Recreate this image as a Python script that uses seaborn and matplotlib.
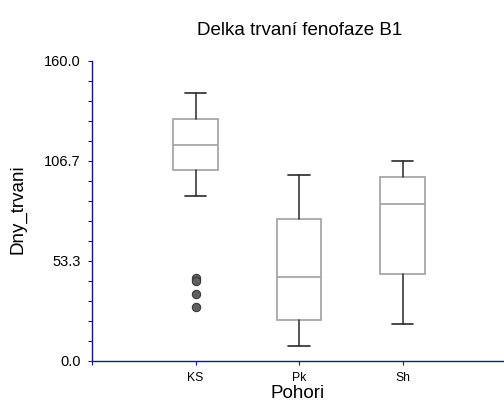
import matplotlib
matplotlib.use("Agg")
import matplotlib.pyplot as plt
import seaborn as sns
import numpy as np

# Box summaries per mountain range (days)
groups = ["KS", "Pk", "Sh"]
whisker_low = [87.8, 8.0, 19.9]
q1 = [101.9, 21.9, 46.2]
median = [115.0, 45.0, 83.6]
q3 = [128.9, 75.9, 98.0]
whisker_high = [142.8, 99.0, 106.7]
outliers = [[44.1, 42.8, 35.6, 29.0], [], []]

y_max = 160.0
y_tick_labels = ["0.0", "53.3", "106.7", "160.0"]

sns.set_theme(style="ticks")
plt.rcParams["font.family"] = ["Liberation Sans", "DejaVu Sans"]
plt.rcParams["text.color"] = "black"
plt.rcParams["axes.labelcolor"] = "black"

axis_color = "#15158f"

fig = plt.figure(figsize=(5.04, 4.03), dpi=100)
ax = fig.add_axes([92 / 504, 42 / 403, 412 / 504, 300 / 403])

stats = [
    dict(label=g, whislo=lo, q1=a, med=m, q3=b, whishi=hi, fliers=np.array(f))
    for g, lo, a, m, b, hi, f in zip(groups, whisker_low, q1, median, q3,
                                     whisker_high, outliers)
]
ax.bxp(
    stats,
    positions=range(len(groups)),
    widths=0.43,
    capwidths=0.21,
    patch_artist=True,
    boxprops=dict(facecolor="white", edgecolor="#a0a0a0", linewidth=1.2),
    medianprops=dict(color="#a0a0a0", linewidth=1.2),
    whiskerprops=dict(color="#3a3a3a", linewidth=1.2),
    capprops=dict(color="#2a2a2a", linewidth=1.2),
    flierprops=dict(marker="o", markerfacecolor="#606060",
                    markeredgecolor="#3a3a3a", markersize=6,
                    markeredgewidth=0.8),
)

ax.set_xlim(-1, 2.98)
ax.set_ylim(0, y_max)

ax.set_yticks(np.linspace(0, y_max, len(y_tick_labels)))
ax.set_yticklabels(y_tick_labels)
ax.set_yticks(np.linspace(0, y_max, 16), minor=True)
ax.set_xticks([-1] + list(range(len(groups))))
ax.set_xticklabels([""] + groups)

for side in ("top", "right"):
    ax.spines[side].set_visible(False)
for side in ("left", "bottom"):
    ax.spines[side].set_color(axis_color)
    ax.spines[side].set_linewidth(1.0)

ax.tick_params(axis="y", which="both", direction="out", length=3, width=0.8,
               color=axis_color, labelcolor="black", labelsize=10.5, pad=5)
ax.tick_params(axis="x", which="both", direction="out", length=3, width=0.8,
               color=axis_color, labelcolor="black", labelsize=8.7, pad=5)

ax.set_xlabel("Pohori", fontsize=13.5)
ax.xaxis.set_label_coords(0.5, -0.11)
ax.xaxis.label.set_va("center")
ax.set_ylabel("Dny_trvani", fontsize=13.5)
ax.yaxis.set_label_coords(-0.18, 0.507)
ax.yaxis.label.set_va("center")

ax.text(0.505, 1.103, "Delka trvaní fenofaze B1", transform=ax.transAxes,
        ha="center", va="center", fontsize=13.5, color="black")

ax.grid(False)
fig.savefig("out.png", dpi=100)
